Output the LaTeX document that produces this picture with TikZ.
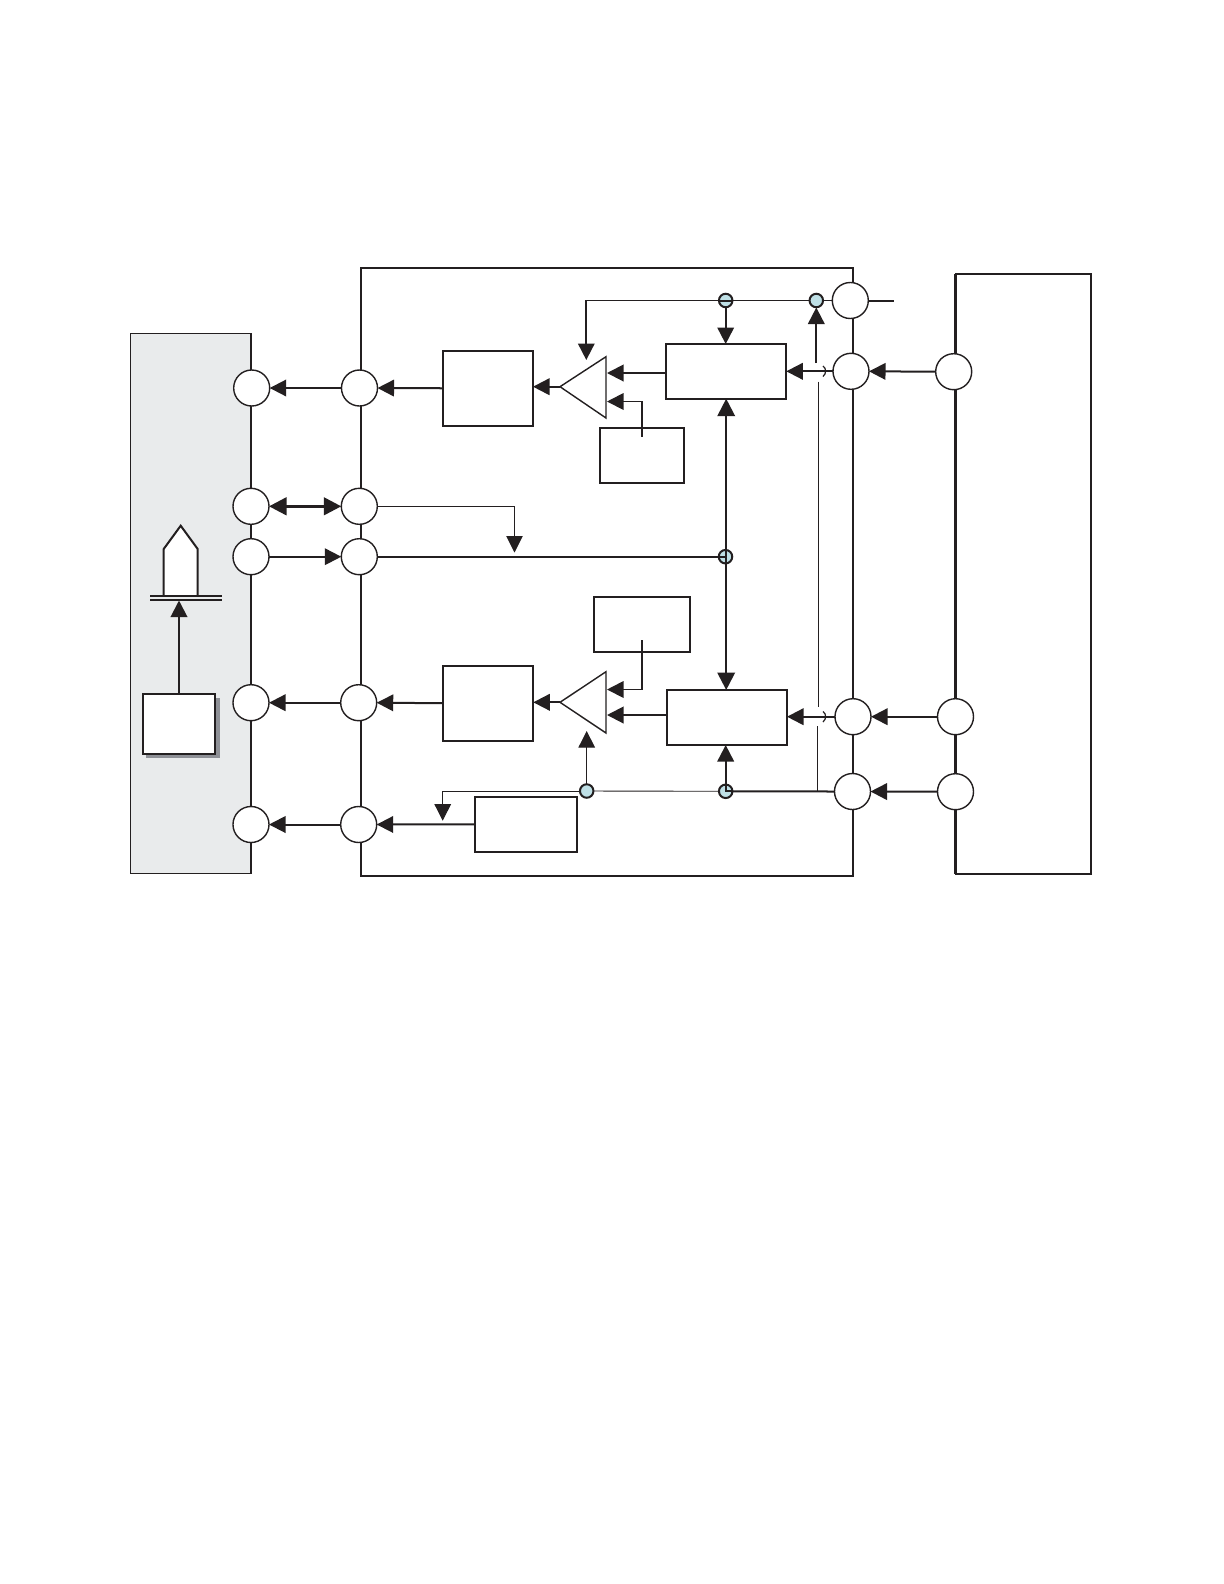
\documentclass[tikz,border=0pt]{standalone}
\usetikzlibrary{arrows.meta,calc}
\definecolor{panelgrey}{HTML}{E9EBEC}
\definecolor{shadowgrey}{HTML}{8E9096}
\definecolor{junctionblue}{HTML}{BFE0E6}
\definecolor{ink}{HTML}{231F20}
\tikzset{
  wire/.style={line width=0.02cm,draw=ink},
  midwire/.style={line width=0.018cm,draw=ink},
  thinwire/.style={line width=0.009cm,draw=ink},
  arr/.style={wire,-{Triangle[length=0.165cm,width=0.165cm]}},
  midarr/.style={midwire,-{Triangle[length=0.165cm,width=0.165cm]}},
  thinarr/.style={thinwire,-{Triangle[length=0.165cm,width=0.165cm]}},
  dblarr/.style={line width=0.03cm,draw=ink,{Triangle[length=0.175cm,width=0.175cm]}-{Triangle[length=0.175cm,width=0.175cm]}},
  port/.style={circle,draw=ink,fill=white,line width=0.014cm,minimum size=0.36cm,inner sep=0pt,outer sep=0pt},
  junction/.style={circle,draw=ink,fill=junctionblue,line width=0.02cm,minimum size=0.135cm,inner sep=0pt,outer sep=0pt},
  blockbox/.style={rectangle,draw=ink,fill=white,line width=0.02cm,inner sep=0pt,outer sep=0pt},
}
\newcommand\mkblock[5]{\node[blockbox,minimum width={(#4-#2)*0.01cm},minimum height={(#5-#3)*0.01cm}] (#1) at ({(#2+#4)/2},{(#3+#5)/2}) {};}
\begin{document}
\begin{tikzpicture}[x=0.01cm,y=-0.01cm]
\useasboundingbox (0,0) rectangle (1224,1584);
\fill[white] (0,0) rectangle (1224,1584);
% enclosures
\draw[thinwire,fill=panelgrey,line width=0.014cm] (130.7,333.5) rectangle (251,873.7);
\draw[wire] (360.8,876) -- (360.8,267.7) -- (853,267.7) -- (853,876) -- cycle;
\draw[wire] (955.5,273.7) rectangle (1091,873.5);
\draw[line width=0.026cm,draw=ink] (955.5,273.7) -- (955.5,873.5);
% blocks
\mkblock{ampa}{442.5}{350.5}{533}{426}
\mkblock{ampb}{442.7}{665.7}{533.3}{740.7}
\mkblock{ctla}{665.7}{344}{786.3}{398.7}
\mkblock{ctlb}{666.7}{690}{787}{745}
\mkblock{refa}{600}{428}{684}{482.7}
\mkblock{refb}{594}{597}{690}{651.5}
\mkblock{out}{474.7}{796.7}{577}{852}
% shadowed block in the panel
\fill[shadowgrey] (146,697.5) rectangle (219.5,758);
\mkblock{src}{142.7}{693.7}{215.3}{754}
% pentagon on double bar
\draw[wire,fill=white] (163.7,595.7) -- (163.7,549) -- (180.7,525.7) -- (197.7,549) -- (197.7,595.7);
\draw[wire] (150,595.7) -- (221.7,595.7);
\draw[wire] (150,600.3) -- (221.7,600.3);
\coordinate (barin) at (179,600.5);
\draw[arr] (src.north -| barin) -- (barin);
% amplifier triangles
\coordinate (tritipa) at (560,386.7);
\coordinate (tritipb) at (560,702.3);
\draw[line width=0.014cm,draw=ink,fill=white] (tritipa) -- (606,356.7) -- (606,418) -- cycle;
\draw[line width=0.014cm,draw=ink,fill=white] (tritipb) -- (606,671.7) -- (606,733) -- cycle;
% ports
\node[port] (l1) at (251.7,388) {};
\node[port] (l2) at (251,506.3) {};
\node[port] (l3) at (251,556.7) {};
\node[port] (l4) at (251,702.7) {};
\node[port] (l5) at (251,824.5) {};
\node[port] (m1) at (359.5,388) {};
\node[port] (m2) at (359.3,506.3) {};
\node[port] (m3) at (359.3,556.7) {};
\node[port] (m4) at (358.7,702.7) {};
\node[port] (m5) at (358.7,824.5) {};
\node[port] (e1) at (850.3,300.5) {};
\node[port] (e2) at (851,371.3) {};
\node[port] (e3) at (853,716.7) {};
\node[port] (e4) at (852.5,791.5) {};
\node[port] (r2) at (953.7,371.7) {};
\node[port] (r3) at (955.5,716.7) {};
\node[port] (r4) at (955.5,791.7) {};
% junction positions
\coordinate (ja) at (725.7,300.5);
\coordinate (jb) at (816.3,300.5);
\coordinate (jc) at (725.5,556.7);
\coordinate (jd) at (586.7,791);
\coordinate (je) at (725.7,791.3);
% top rail
\coordinate (railend) at (894,300.5);
\coordinate (railcorner) at (586.3,300.5);
\coordinate (triina) at (586.3,360);
\draw[wire] (e1.east) -- (railend);
\draw[midwire] (e1.west) -- (ja);
\draw[midarr] (ja) -- (railcorner) -- (triina);
\draw[arr] (ja) -- (ctla.north -| ja);
\coordinate (tapa) at (816.3,363);
\draw[arr] (tapa) -- (816.3,307.5);
% row 1
\draw[arr] (e2.west) -- (ctla.east |- e2.west);
\draw[arr] (r2.west) -- (e2.east);
\draw[arr] (ctla.west |- 0,373) -- (607,373);
\draw[arr] (tritipa) -- (ampa.east |- tritipa);
\draw[arr] (ampa.west) -- (m1.east);
\draw[arr] (m1.west) -- (l1.east);
\coordinate (refain) at (642,436.7);
\coordinate (refaout) at (607,401.5);
\draw[midarr] (refain) -- (642,401.5) -- (refaout);
% rows 2 and 3
\draw[dblarr] (l2.east) -- (m2.west);
\draw[arr] (l3.east) -- (m3.west);
\draw[thinarr] (m2.east) -- (514.5,506.3) -- (514.5,552.5);
\draw[wire] (m3.east) -- (jc);
\draw[line width=0.022cm,draw=ink,{Triangle[length=0.175cm,width=0.175cm]}-{Triangle[length=0.175cm,width=0.175cm]}] (726.2,398.7) -- (726.2,690);
% lower channel
\coordinate (refbin) at (642,640);
\draw[midarr] (refbin) -- (642,689.5) -- (607,689.5);
\draw[arr] (ctlb.west |- 0,715) -- (607,715);
\draw[arr] (e3.west) -- (ctlb.east |- e3.west);
\draw[arr] (r3.west) -- (e3.east);
\draw[arr] (tritipb) -- (ampb.east |- tritipb);
\draw[arr] (ampb.west) -- (m4.east);
\draw[arr] (m4.west) -- (l4.east);
% bottom rail
\draw[arr] (r4.west) -- (e4.east);
\draw[wire] (e4.west) -- (je);
\draw[thinwire] (je) -- (jd);
\coordinate (railcornerb) at (442.7,791);
\draw[thinarr] (jd) -- (railcornerb) -- (442.7,820.7);
\draw[thinarr] (jd) -- (586.7,731);
\draw[arr] (je) -- (ctlb.south -| je);
\draw[arr] (out.west) -- (m5.east);
\draw[arr] (m5.west) -- (l5.east);
% thin vertical tap with line-crossing breaks
\coordinate (tapb) at (817.7,791.3);
\draw[thinwire] (818,381.7) -- (818,706.7);
\draw[thinwire] (tapb) -- (817.7,725.7);
\draw[thinwire,line width=0.012cm] (823,366) .. controls (826.5,368.5) and (826.5,373.5) .. (823,376.5);
\draw[thinwire,line width=0.012cm] (823,711.5) .. controls (826.5,714) and (826.5,719) .. (823,722);
% junctions
\node[junction] (nja) at (ja) {};
\node[junction] (njb) at (jb) {};
\node[junction] (njc) at (jc) {};
\node[junction] (njd) at (jd) {};
\node[junction] (nje) at (je) {};
\draw[wire] (nja.west) -- (nja.east);
\draw[wire] (nje.north) -- (je) -- (nje.east);
\draw[wire] (njc.west) -- (jc);
\draw[wire] (njc.north) -- (njc.south);
\end{tikzpicture}
\end{document}
